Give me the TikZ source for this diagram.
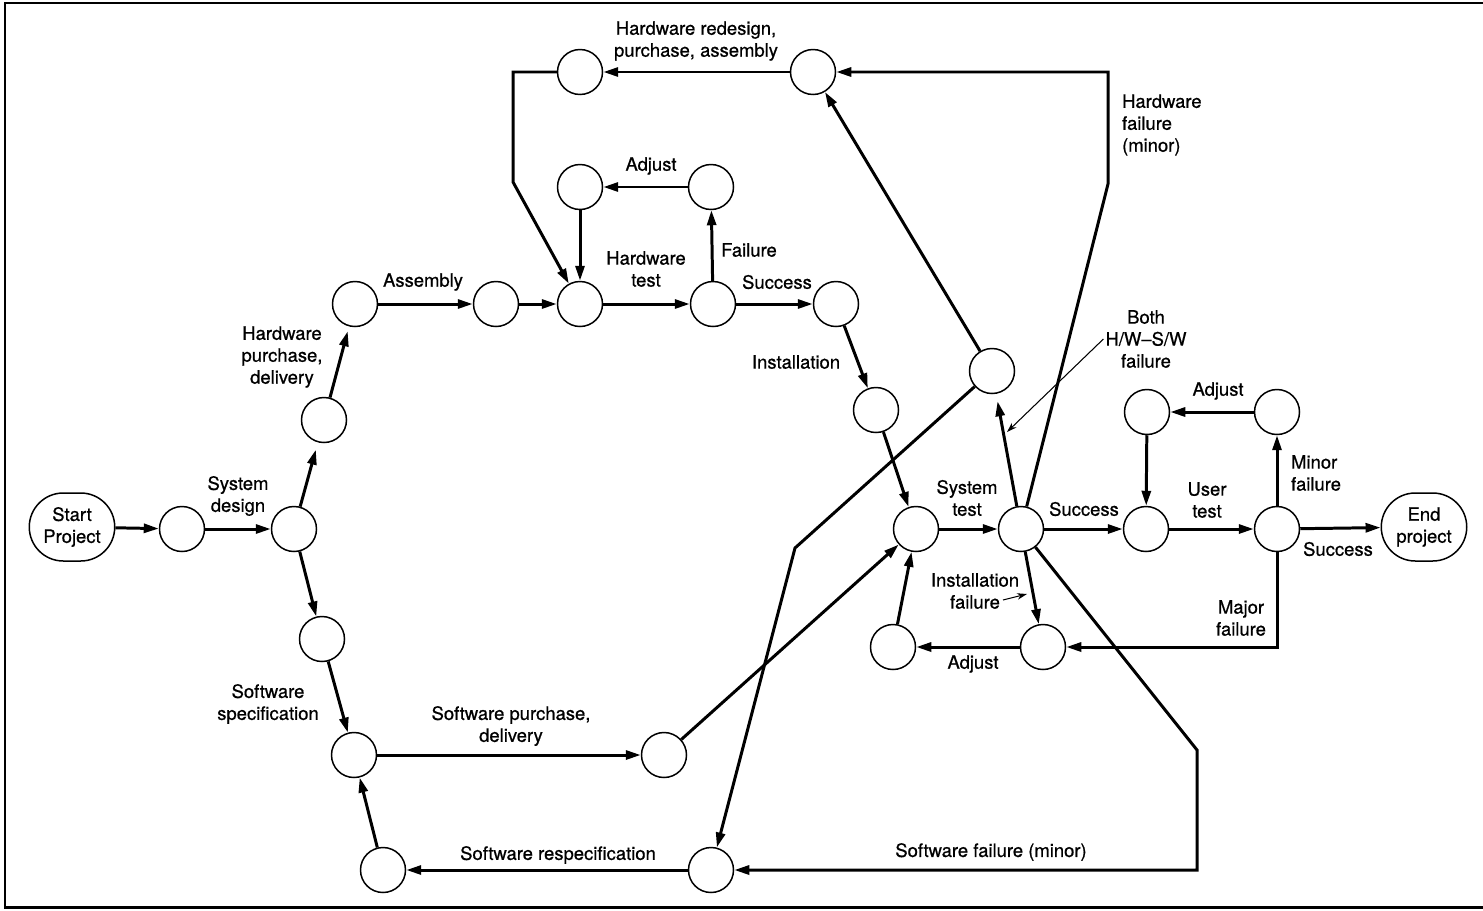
\documentclass[tikz,border=0pt]{standalone}
\usepackage{fontspec}
\setmainfont{TeX Gyre Heros}[UprightFeatures={FakeBold=0.7}]
\usetikzlibrary{arrows.meta, shapes.misc, positioning}

\begin{document}
\begin{tikzpicture}[x=0.02cm, y=-0.02cm,
    font=\fontsize{10.5}{12.5}\selectfont,
    event/.style={circle, draw, line width=0.85pt, minimum size=0.9cm, inner sep=0pt},
    terminal/.style={rounded rectangle, draw, line width=0.85pt, align=center,
                     minimum width=1.78cm, minimum height=1.36cm, inner sep=1pt},
    flow/.style={line width=1.7pt, -{Triangle[length=3mm,width=1.8mm]}},
    pointer/.style={line width=0.6pt, -{Stealth[length=2mm,width=1.3mm]}},
    lbl/.style={align=center, inner sep=1pt}]

\useasboundingbox (0,0) rectangle (1483,910);

% frame
\draw[line width=1.7pt] (1483,3) -- (5,3) -- (5,907) -- (1483,907);

% start and end
\node[terminal] (start)  at (72,527)   {Start\\Project};
\node[terminal] (finish) at (1424,527) {End\\project};

% design and hardware branch
\node[event] (e1)  at (182,529) {};
\node[event] (e2)  at (294,529) {};
\node[event] (hw1) at (324,420) {};
\node[event] (hw2) at (355,304) {};
\node[event] (hw3) at (496,304) {};
\node[event] (ht1) at (580,304) {};
\node[event] (ht2) at (713,304) {};
\node[event] (ha1) at (711,187) {};
\node[event] (ha2) at (580,187) {};
\node[event] (hr1) at (813,72)  {};
\node[event] (hr2) at (580,72)  {};
\node[event] (in1) at (836,304) {};
\node[event] (in2) at (876,410) {};

% system and user test
\node[event] (st1) at (916,529)  {};
\node[event] (st2) at (1021,529) {};
\node[event] (bf)  at (992,371)  {};
\node[event] (if1) at (1043,647) {};
\node[event] (if2) at (893,647)  {};
\node[event] (ut1) at (1146,529) {};
\node[event] (ut2) at (1277,529) {};
\node[event] (ua1) at (1277,412) {};
\node[event] (ua2) at (1147,412) {};

% software branch
\node[event] (sw1) at (322,639) {};
\node[event] (sw2) at (354,755) {};
\node[event] (sw3) at (664,755) {};
\node[event] (sr1) at (711,870) {};
\node[event] (sr2) at (383,870) {};

% labels
\node[lbl] (tDesign)   at (238,496) {System\\design};
\node[lbl] (tHwBuy)    at (282,357) {Hardware\\purchase,\\delivery};
\node[lbl] (tAssembly) at (423,282) {Assembly};
\node[lbl] (tHwTest)   at (646,269) {Hardware\\test};
\node[lbl] (tHwAdjust) at (651,166) {Adjust};
\node[lbl] (tHwFail)   at (749,250) {Failure};
\node[lbl] (tHwPass)   at (777,282) {Success};
\node[lbl] (tInstall)  at (796,362) {Installation};
\node[lbl] (tRedesign) at (696,41)  {Hardware redesign,\\purchase, assembly};
\node[lbl, align=left, anchor=west] (tHwMinor) at (1120,125) {Hardware\\failure\\(minor)};
\node[lbl] (tBoth)     at (1146,339) {Both\\H/W--S/W\\failure};
\node[lbl] (tSysTest)  at (967,498)  {System\\test};
\node[lbl] (tSysPass)  at (1084,509) {Success};
\node[lbl] (tInstFail) at (975,591)  {Installation\\failure};
\node[lbl] (tInAdjust) at (973,664)  {Adjust};
\node[lbl] (tUserTest) at (1207,500) {User\\test};
\node[lbl] (tUsAdjust) at (1218,391) {Adjust};
\node[lbl, align=left, anchor=west] (tMinor) at (1289,473) {Minor\\failure};
\node[lbl] (tMajor)    at (1241,618) {Major\\failure};
\node[lbl] (tUserPass) at (1338,549) {Success};
\node[lbl] (tSwSpec)   at (268,704)  {Software\\specification};
\node[lbl] (tSwBuy)    at (511,726)  {Software purchase,\\delivery};
\node[lbl] (tRespec)   at (558,855)  {Software respecification};
\node[lbl] (tSwMinor)  at (991,852)  {Software failure (minor)};

% main flow
\draw[flow] (start) -- (e1);
\draw[flow] (e1) -- (e2);
\draw[flow, shorten >=1.5mm] (e2) -- (hw1);
\draw[flow, shorten >=1mm] (hw1) -- (hw2);
\draw[flow] (hw2) -- (hw3);
\draw[flow] (hw3) -- (ht1);
\draw[flow] (ht1) -- (ht2);
\draw[flow] (ht2) -- (ha1);
\draw[flow] (ha1) -- (ha2);
\draw[flow] (ha2) -- (ht1);
\draw[flow] (ht2) -- (in1);
\draw[flow] (in1) -- (in2);
\draw[flow] (in2) -- (st1);
\draw[flow] (st1) -- (st2);
\draw[flow] (st2) -- (ut1);
\draw[flow] (ut1) -- (ut2);
\draw[flow] (ut2) -- (finish);
\draw[flow] (ut2) -- (ua1);
\draw[flow] (ua1) -- (ua2);
\draw[flow] (ua2) -- (ut1);

% software flow
\draw[flow] (e2) -- (sw1);
\draw[flow] (sw1) -- (sw2);
\draw[flow] (sw2) -- (sw3);
\draw[flow] (sw3) -- (st1);
\draw[flow] (sr1) -- (sr2);
\draw[flow] (sr2) -- (sw2);

% failure loops
\draw[flow] (st2) -- (if1);
\draw[flow] (if1) -- (if2);
\draw[flow] (if2) -- (st1);
\draw[flow] (ut2) -- (1277,647) -- (if1);
\draw[flow, shorten >=1.5mm] (st2) -- (bf);
\draw[flow] (bf) -- (hr1);
\draw[flow] (bf) -- (795,548) -- (sr1);
\draw[flow] (st2) -- (1108,184) -- (1108,72) -- (hr1);
\draw[flow] (hr1) -- (hr2);
\draw[flow] (hr2) -- (513,72) -- (513,182) -- (ht1);
\draw[flow] (st2) -- (1197,750) -- (1197,870) -- (sr1);

% label pointers
\coordinate (bothTip) at (1007,432);
\coordinate (instFrom) at (1003,600);
\coordinate (instTip) at (1027,594);
\draw[pointer] (tBoth.west) -- (bothTip);
\draw[pointer] (instFrom) -- (instTip);

\end{tikzpicture}
\end{document}
